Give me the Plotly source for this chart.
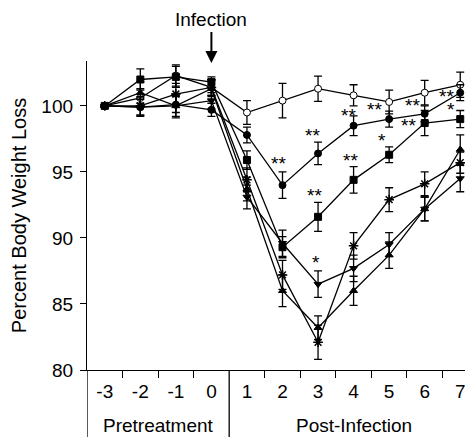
import plotly.graph_objects as go

days = [-3, -2, -1, 0, 1, 2, 3, 4, 5, 6, 7]
tick_labels = ["-3", "-2", "-1", "0", "1", "2", "3", "4", "5", "6", "7"]

open_circle = [100.0, 100.6, 102.3, 101.4, 99.5, 100.4, 101.3, 100.8, 100.3, 101.0, 101.6]
open_circle_err = [0.1, 0.7, 0.8, 0.6, 0.9, 1.3, 0.95, 0.8, 0.9, 0.93, 0.95]

filled_circle = [100.0, 99.9, 100.1, 99.7, 97.8, 94.0, 96.4, 98.5, 99.0, 99.4, 101.0]
filled_circle_err = [0.1, 0.6, 0.6, 0.5, 0.6, 1.0, 0.85, 0.75, 0.6, 0.6, 0.6]

filled_square = [100.0, 102.0, 102.2, 101.8, 95.9, 89.3, 91.6, 94.4, 96.3, 98.7, 99.0]
filled_square_err = [0.1, 0.8, 0.8, 0.4, 0.7, 0.8, 1.1, 1.0, 0.6, 0.95, 0.65]

triangle_up = [100.0, 101.0, 100.0, 101.3, 93.7, 86.0, 83.2, 86.0, 88.7, 92.2, 96.7]
triangle_up_err = [0.1, 0.8, 0.9, 0.6, 0.9, 1.2, 0.9, 1.1, 1.0, 0.9, 1.1]

asterisk = [100.0, 100.0, 100.9, 101.4, 94.4, 87.2, 82.1, 89.4, 92.9, 94.1, 95.7]
asterisk_err = [0.1, 0.7, 0.8, 0.6, 0.9, 1.1, 1.3, 1.0, 0.9, 0.9, 0.8]

triangle_down = [100.0, 99.9, 100.0, 100.4, 93.1, 89.6, 86.5, 87.7, 89.5, 92.2, 94.5]
triangle_down_err = [0.1, 0.7, 0.8, 0.6, 0.9, 1.0, 1.0, 1.0, 0.9, 0.9, 1.0]

sig_x = [1.88, 2.85, 2.9, 3.9, 3.85, 4.6, 4.8, 5.65, 5.55, 6.6, 6.75]
sig_y = [95.8, 97.9, 93.4, 96.0, 99.4, 99.85, 97.5, 100.15, 98.7, 100.9, 99.9]
sig_text = ["**", "**", "**", "**", "**", "**", "*", "**", "**", "**", "*"]
sig3_x = [2.95]
sig3_y = [88.3]

series = [
    (open_circle, open_circle_err, "circle", "white"),
    (filled_circle, filled_circle_err, "circle", "black"),
    (filled_square, filled_square_err, "square", "black"),
    (triangle_up, triangle_up_err, "triangle-up", "black"),
    (asterisk, asterisk_err, "asterisk-open", "black"),
    (triangle_down, triangle_down_err, "triangle-down", "black"),
]

FONT = "Liberation Sans, Arial, sans-serif"

fig = go.Figure()
for vals, errs, sym, fill in series:
    fig.add_trace(go.Scatter(
        x=days, y=vals, mode="lines+markers",
        line=dict(color="black", width=1.3),
        marker=dict(symbol=sym, size=7 if sym != "asterisk-open" else 8, color=fill,
                    line=dict(color="black", width=1.5 if sym == "asterisk-open" else 1)),
        error_y=dict(type="data", array=errs, visible=True, color="black", thickness=1.3, width=4),
        showlegend=False, cliponaxis=False,
    ))

annotations = []
for x, y, t in zip(sig_x + sig3_x, sig_y + sig3_y, sig_text + ["*"]):
    annotations.append(dict(x=x, y=y, text=t, showarrow=False, xref="x", yref="y",
                            font=dict(family=FONT, size=19, color="black"), yshift=-2))

annotations.append(dict(x=0, y=103.25, xref="x", yref="y", text="Infection", showarrow=True,
                        ax=0, ay=-43, arrowhead=2, arrowsize=1.2, arrowwidth=2, arrowcolor="black",
                        font=dict(family=FONT, size=19, color="black")))
annotations.append(dict(x=-1.5, y=-0.178, xref="x", yref="paper", text="Pretreatment", showarrow=False,
                        yanchor="middle", font=dict(family=FONT, size=19, color="black")))
annotations.append(dict(x=4.0, y=-0.178, xref="x", yref="paper", text="Post-Infection", showarrow=False,
                        yanchor="middle", font=dict(family=FONT, size=19, color="black")))

shapes = [
    dict(type="line", xref="x", yref="paper", x0=xv, x1=xv, y0=0, y1=-0.3,
         line=dict(color="black", width=1.3))
    for xv in (-3.5, 0.5, 7.5)
]

fig.update_layout(
    width=473, height=437,
    margin=dict(l=79, r=3, t=53, b=75),
    plot_bgcolor="white", paper_bgcolor="white",
    font=dict(family=FONT, size=19, color="black"),
    annotations=annotations, shapes=shapes,
    xaxis=dict(range=[-3.5, 7.5], tickmode="array", tickvals=days, ticktext=tick_labels,
               ticks="outside", ticklen=4, tickcolor="rgba(0,0,0,0)",
               showline=True, linecolor="black", linewidth=1.3, showgrid=False, zeroline=False,
               tickfont=dict(family=FONT, size=19),
               minor=dict(tickmode="array", tickvals=[-2.5, -1.5, -0.5, 1.5, 2.5, 3.5, 4.5, 5.5, 6.5],
                          ticks="outside", ticklen=7, tickcolor="black", tickwidth=1.3, showgrid=False)),
    yaxis=dict(range=[80, 103.4], tickvals=[80, 85, 90, 95, 100], ticks="outside", ticklen=6,
               tickcolor="black", tickwidth=1.3, ticklabelstandoff=3,
               showline=True, linecolor="black", linewidth=1.3, showgrid=False, zeroline=False,
               tickfont=dict(family=FONT, size=19),
               title=dict(text="Percent Body Weight Loss", font=dict(family=FONT, size=20), standoff=12)),
)

fig.write_html("out.html")
